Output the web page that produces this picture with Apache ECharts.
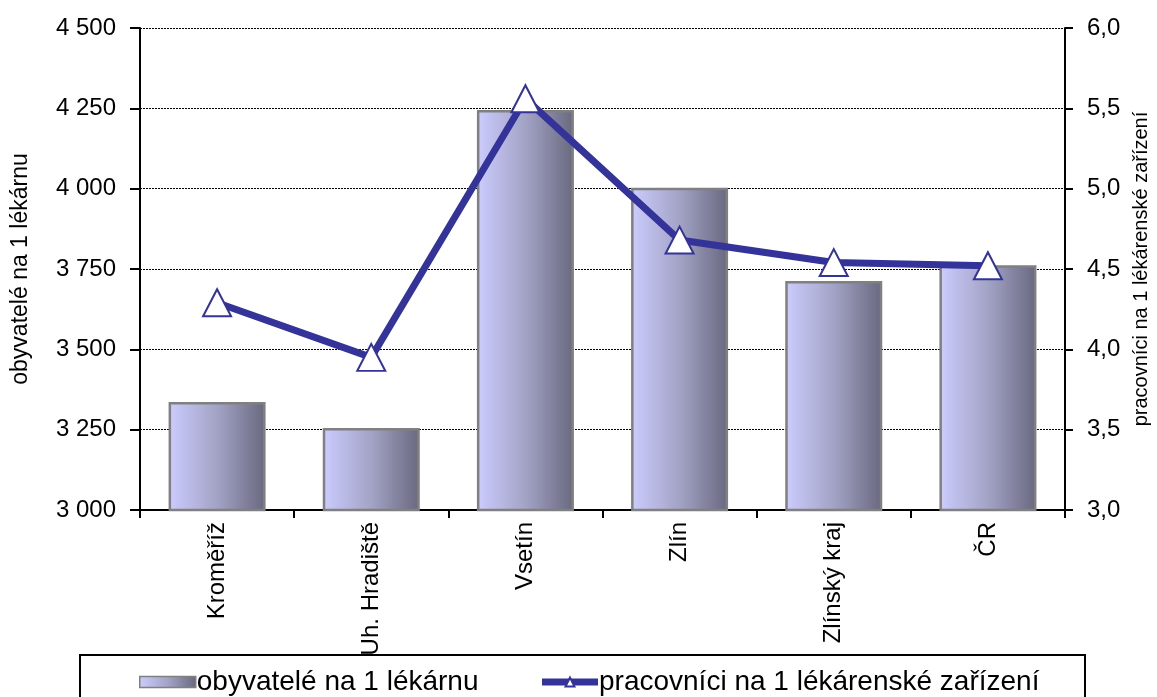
<!DOCTYPE html>
<html>
<head>
<meta charset="utf-8">
<script src="https://cdn.jsdelivr.net/npm/echarts@6/dist/echarts.min.js"></script>
<style>
  html, body { margin: 0; padding: 0; background: #fff; }
  #chart { width: 1157px; height: 697px; }
</style>
</head>
<body>
<div id="chart"></div>
<script>
  const categories = ['Kroměříž', 'Uh. Hradiště', 'Vsetín', 'Zlín', 'Zlínský kraj', 'ČR']
  const obyvatele = [3336, 3255, 4245, 4003, 3713, 3762]
  const pracovnici = [4.29, 3.95, 5.56, 4.68, 4.54, 4.52]
  const barName = 'obyvatelé na 1 lékárnu'
  const lineName = 'pracovníci na 1 lékárenské zařízení'

  const textFont = '"Liberation Sans", Arial, sans-serif'

  const barFill = new echarts.graphic.LinearGradient(0, 0, 1, 0, [
    { offset: 0, color: '#CCCCFF' },
    { offset: 0.5, color: '#A3A3C6' },
    { offset: 1, color: '#68687F' }
  ])

  const chart = echarts.init(document.getElementById('chart'))

  const option = {
    animation: false,
    backgroundColor: '#fff',
    grid: { left: 140, right: 92, top: 28, bottom: 187, containLabel: false, outerBoundsMode: 'none' },
    legend: {
      left: 134,
      top: 663,
      itemGap: 60,
      itemWidth: 56,
      itemHeight: 11,
      textStyle: { fontFamily: textFont, fontSize: 28, color: '#000', padding: [0, 0, 0, -4] },
      data: [
        { name: barName, icon: 'rect', itemStyle: { borderColor: '#808080', borderWidth: 1.5 } },
        { name: lineName, lineStyle: { color: '#333399', width: 7 } }
      ]
    },
    graphic: [{
      type: 'rect',
      shape: { x: 80, y: 655, width: 1005, height: 60 },
      style: { fill: 'none', stroke: '#000', lineWidth: 2 }
    }],
    xAxis: {
      type: 'category',
      data: categories,
      axisLine: { lineStyle: { color: '#000', width: 2 } },
      axisTick: { show: true, length: 8, lineStyle: { color: '#000', width: 2 } },
      axisLabel: { rotate: 90, margin: 12, color: '#000', fontFamily: textFont, fontSize: 24 }
    },
    yAxis: [
      {
        type: 'value',
        min: 3000,
        max: 4500,
        interval: 250,
        name: barName,
        nameLocation: 'middle',
        nameRotate: 90,
        nameGap: 108,
        nameTextStyle: { fontFamily: textFont, fontSize: 23, color: '#000' },
        axisLine: { show: true, lineStyle: { color: '#000', width: 2 } },
        axisTick: { show: true, length: 10, lineStyle: { color: '#000', width: 2 } },
        axisLabel: {
          margin: 24,
          color: '#000',
          fontFamily: textFont,
          fontSize: 24,
          formatter: v => String(v).replace(/(\d)(\d{3})$/, '$1 $2')
        },
        splitLine: { show: true, lineStyle: { color: '#000', width: 1, type: [2, 1] } }
      },
      {
        type: 'value',
        min: 3,
        max: 6,
        interval: 0.5,
        position: 'right',
        name: lineName,
        nameLocation: 'middle',
        nameRotate: 90,
        nameGap: 61,
        nameTextStyle: { fontFamily: textFont, fontSize: 20, color: '#000' },
        axisLine: { show: true, lineStyle: { color: '#000', width: 2 } },
        axisTick: { show: true, length: 8, lineStyle: { color: '#000', width: 2 } },
        axisLabel: {
          margin: 22,
          color: '#000',
          fontFamily: textFont,
          fontSize: 24,
          formatter: v => v.toFixed(1).replace('.', ',')
        },
        splitLine: { show: false }
      }
    ],
    series: [
      {
        name: barName,
        type: 'bar',
        data: obyvatele,
        barWidth: 97,
        itemStyle: { color: barFill, borderColor: '#808080', borderWidth: 2.5 }
      },
      {
        name: lineName,
        type: 'line',
        yAxisIndex: 1,
        data: pracovnici,
        symbol: 'triangle',
        symbolSize: [28, 27],
        lineStyle: { color: '#333399', width: 7 },
        itemStyle: { color: '#fff', borderColor: '#333399', borderWidth: 2 },
        z: 3
      }
    ]
  }

  chart.setOption(option)
</script>
</body>
</html>
